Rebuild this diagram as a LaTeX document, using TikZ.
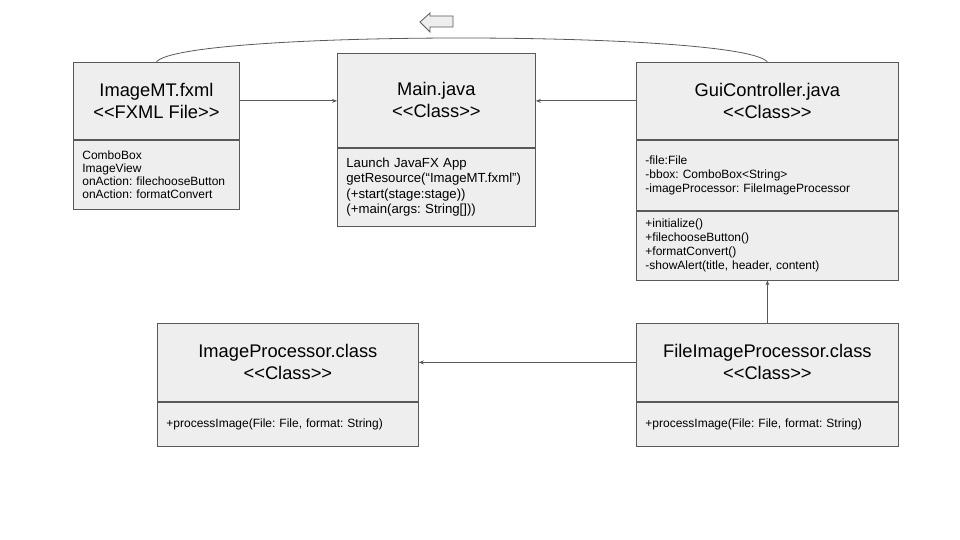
\documentclass[tikz,border=0pt]{standalone}
\usepackage{fontspec}
\setmainfont{Liberation Sans}
\usetikzlibrary{arrows.meta}
\frenchspacing
\definecolor{boxfill}{HTML}{EEEEEE}
\definecolor{linec}{HTML}{595959}
\tikzset{
  comp/.style={draw=linec, fill=boxfill, line width=0.8pt, inner sep=0pt, anchor=north west, text=black},
  ttl/.style={comp, align=center, font=\fontsize{18.3}{22}\selectfont},
  bodyA/.style={comp, align=left, inner xsep=9pt, font=\fontsize{12}{12.9}\selectfont},
  bodyB/.style={comp, align=left, inner xsep=9pt, font=\fontsize{12}{14}\selectfont},
  bodyC/.style={comp, align=left, inner xsep=9pt, font=\fontsize{13.2}{15.3}\selectfont},
  conn/.style={draw=linec, line width=0.8pt, -{Stealth[length=5pt,width=4pt]}},
  curveline/.style={draw=linec, line width=0.8pt},
  blockarrow/.style={draw=linec, fill=boxfill, line width=0.8pt, line join=miter}
}
\begin{document}
\begin{tikzpicture}[x=1pt,y=-1pt]
\frenchspacing
\useasboundingbox (0,0) rectangle (960,540);
% ImageMT.fxml
\node[ttl, minimum width=166pt, minimum height=77pt] (imtT) at (73,62) {ImageMT.fxml\\<{}<FXML File>{}>};
\node[bodyA, text width=148pt, minimum height=69pt] (imtB) at (imtT.south west) {ComboBox\\ImageView\\onAction: filechooseButton\\onAction: formatConvert};
% Main.java
\node[ttl, minimum width=198pt, minimum height=94pt] (mainT) at (337,53) {Main.java\\<{}<Class>{}>};
\node[bodyC, text width=180pt, minimum height=78pt] (mainB) at (mainT.south west) {Launch JavaFX App\\getResource(“ImageMT.fxml”)\\(+start(stage:stage))\\(+main(args: String[]))};
% GuiController.java
\node[ttl, minimum width=262pt, minimum height=77pt] (guiT) at (636,62) {GuiController.java\\<{}<Class>{}>};
\node[bodyB, text width=244pt, minimum height=70pt] (guiA) at (guiT.south west) {-file:File\\-bbox: ComboBox<String>\\-imageProcessor: FileImageProcessor};
\node[bodyB, text width=244pt, minimum height=69pt] (guiM) at (guiA.south west) {+initialize()\\+filechooseButton()\\+formatConvert()\\-showAlert(title, header, content)};
% ImageProcessor.class
\node[ttl, minimum width=261pt, minimum height=78pt] (ipT) at (157,323) {ImageProcessor.class\\<{}<Class>{}>};
\node[bodyB, text width=243pt, minimum height=44pt] (ipB) at (ipT.south west) {+processImage(File: File, format: String)};
% FileImageProcessor.class
\node[ttl, minimum width=262pt, minimum height=78pt] (fipT) at (636,323) {FileImageProcessor.class\\<{}<Class>{}>};
\node[bodyB, text width=244pt, minimum height=44pt] (fipB) at (fipT.south west) {+processImage(File: File, format: String)};
% connectors
\draw[conn] (imtT.east) -- (imtT.east -| mainT.west);
\draw[conn] (guiT.west) -- (guiT.west -| mainT.east);
\draw[conn] (fipT.west) -- (fipT.west -| ipT.east);
\draw[conn] (fipT.north) -- (guiM.south);
\draw[curveline] (imtT.north) .. controls (180,30) and (742,30) .. (guiT.north);
% block arrow
\draw[blockarrow] (420,22) -- (430,13) -- (430,16) -- (453,16) -- (453,27) -- (430,27) -- (430,32) -- cycle;
\end{tikzpicture}
\end{document}
